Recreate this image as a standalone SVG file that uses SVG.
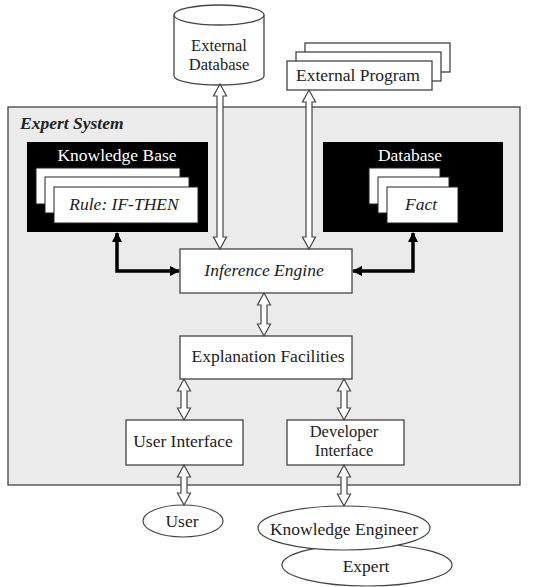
<svg xmlns="http://www.w3.org/2000/svg" width="549" height="587" viewBox="0 0 549 587" font-family="'Liberation Serif', 'DejaVu Serif', serif">
<style>
text{font-family:"Liberation Serif","DejaVu Serif",serif;font-size:17.5px;fill:#222;text-anchor:middle}
.it{font-style:italic}
.two{font-size:16.5px}
.box{fill:#fff;stroke:#444;stroke-width:1.3}
.blk{fill:#000}
.card{fill:#fff;stroke:#222;stroke-width:1}
.harrow{fill:#fff;stroke:#444;stroke-width:1.2;stroke-linejoin:miter}
.bold{fill:none;stroke:#000;stroke-width:3.5}
</style>
<defs>
<marker id="ah" viewBox="0 0 10 10" refX="9" refY="5" markerWidth="3" markerHeight="3" orient="auto-start-reverse" markerUnits="strokeWidth">
<path d="M0,0 L10,5 L0,10 z" fill="#000"/>
</marker>
</defs>

<rect id="expert-system-frame" x="8" y="107" width="512" height="378" fill="#ebebeb" stroke="#444" stroke-width="1.3"/>
<text x="20" y="129" style="font-weight:bold;font-style:italic;text-anchor:start">Expert System</text>

<g id="external-database">
<path d="M174,15 L174,76 A45,9 0 0 0 264,76 L264,15" fill="#fff" stroke="#444" stroke-width="1.3"/>
<ellipse cx="219" cy="15" rx="45" ry="10" fill="#fff" stroke="#444" stroke-width="1.3"/>
<text class="two" x="219" y="51">External</text>
<text class="two" x="219" y="70">Database</text>
</g>

<g id="external-program">
<rect class="box" x="305" y="43" width="145" height="29"/>
<rect class="box" x="296" y="52" width="145" height="29"/>
<rect class="box" x="287" y="61" width="145" height="29"/>
<text x="358" y="81">External Program</text>
</g>

<g id="knowledge-base">
<rect class="blk" x="27" y="142" width="181" height="90"/>
<text x="117" y="161" style="fill:#fff">Knowledge Base</text>
<rect class="card" x="36" y="168" width="144" height="36"/>
<rect class="card" x="45" y="177" width="144" height="36"/>
<rect class="card" x="54" y="187" width="144" height="36"/>
<text class="it" x="124" y="210">Rule: IF-THEN</text>
</g>

<g id="database">
<rect class="blk" x="323" y="142" width="180" height="90"/>
<text x="410" y="161" style="fill:#fff">Database</text>
<rect class="card" x="369" y="168" width="71" height="36"/>
<rect class="card" x="378" y="177" width="71" height="36"/>
<rect class="card" x="387" y="187" width="71" height="36"/>
<text class="it" x="421" y="210">Fact</text>
</g>

<g id="inference-engine">
<rect class="box" x="180" y="249" width="172" height="44"/>
<text class="it" x="264" y="276">Inference Engine</text>
</g>

<g id="explanation-facilities">
<rect class="box" x="180" y="336" width="172" height="43"/>
<text x="268" y="362">Explanation Facilities</text>
</g>

<g id="user-interface">
<rect class="box" x="126" y="420" width="117" height="45"/>
<text x="183" y="447">User Interface</text>
</g>

<g id="developer-interface">
<rect class="box" x="287" y="420" width="117" height="45"/>
<text class="two" x="344" y="437">Developer</text>
<text class="two" x="344" y="456">Interface</text>
</g>

<g id="user">
<ellipse cx="183" cy="521" rx="40" ry="16" fill="#fff" stroke="#444" stroke-width="1.2"/>
<text x="182" y="527">User</text>
</g>

<g id="expert">
<ellipse cx="367" cy="565" rx="85" ry="21" fill="#fff" stroke="#444" stroke-width="1.2"/>
<text x="366" y="572">Expert</text>
</g>

<g id="knowledge-engineer">
<ellipse cx="344" cy="528" rx="86" ry="22" fill="#fff" stroke="#444" stroke-width="1.2"/>
<text x="344" y="535">Knowledge Engineer</text>
</g>

<g id="connectors">
<polygon class="harrow" points="220,84 226.5,96 223,96 223,237 226.5,237 220,249 213.5,237 217,237 217,96 213.5,96"/>
<polygon class="harrow" points="309,90 315.5,102 312,102 312,237 315.5,237 309,249 302.5,237 306,237 306,102 302.5,102"/>
<polygon class="harrow" points="264,293 270.5,305 267,305 267,324 270.5,324 264,336 257.5,324 261,324 261,305 257.5,305"/>
<polygon class="harrow" points="184,379 190.5,391 187,391 187,408 190.5,408 184,420 177.5,408 181,408 181,391 177.5,391"/>
<polygon class="harrow" points="344,379 350.5,391 347,391 347,408 350.5,408 344,420 337.5,408 341,408 341,391 337.5,391"/>
<polygon class="harrow" points="184,465 190.5,477 187,477 187,493 190.5,493 184,505 177.5,493 181,493 181,477 177.5,477"/>
<polygon class="harrow" points="344,465 350.5,477 347,477 347,494 350.5,494 344,506 337.5,494 341,494 341,477 337.5,477"/>
<polyline class="bold" points="117,233 117,271 179,271" marker-start="url(#ah)" marker-end="url(#ah)"/>
<polyline class="bold" points="413,233 413,271 353,271" marker-start="url(#ah)" marker-end="url(#ah)"/>
</g>
</svg>
